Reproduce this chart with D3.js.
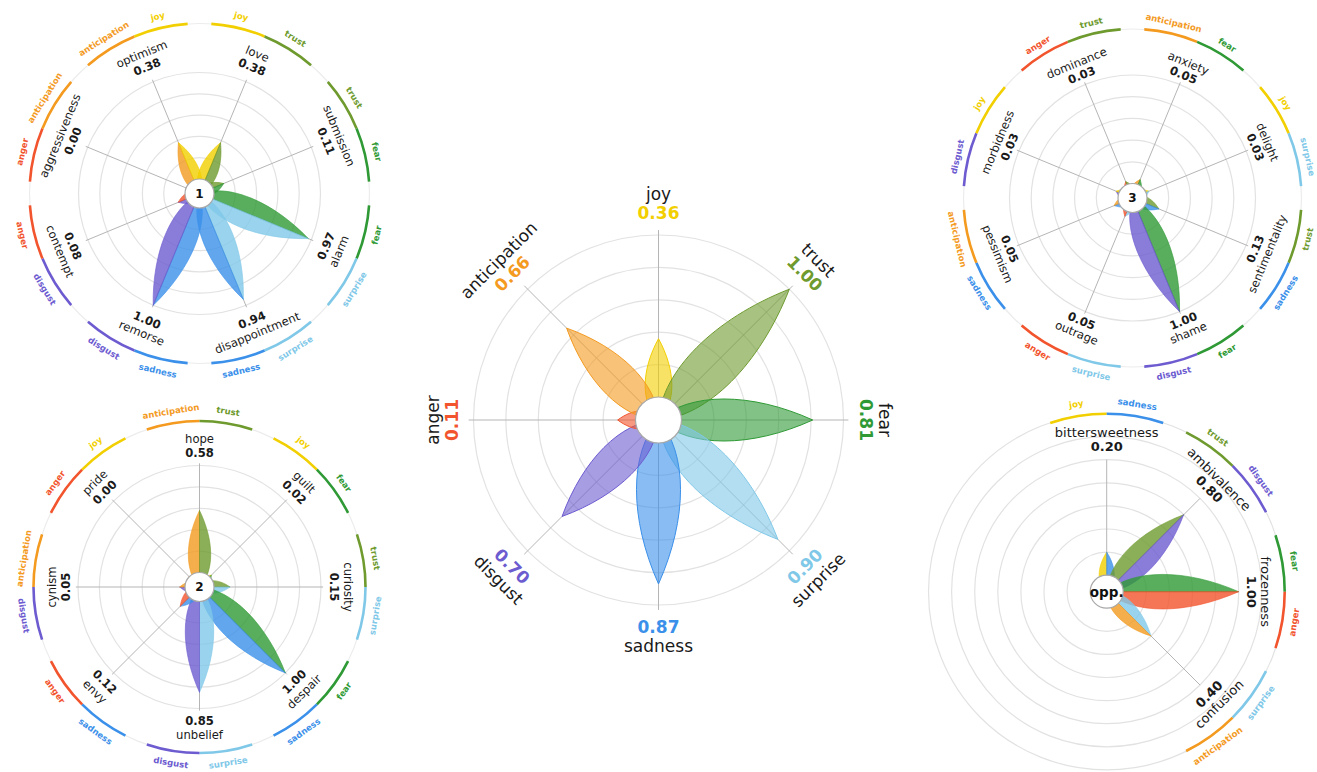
<!DOCTYPE html>
<html>
<head>
<meta charset="utf-8">
<script src="https://cdn.jsdelivr.net/npm/d3@7"></script>
<style>
  html, body { margin: 0; padding: 0; background: #fff; }
  svg { display: block; font-family: "DejaVu Sans", sans-serif; }
</style>
</head>
<body>
<svg id="chart" width="1317" height="772"></svg>
<script>
// Primary emotions, clockwise from the top of the wheel
const emotionNames  = ["joy", "trust", "fear", "surprise", "sadness", "disgust", "anger", "anticipation"];
const emotionColors = ["#f2cf00", "#6e9a2e", "#2f9a35", "#80c8e8", "#3b90ea", "#6d5bd0", "#f2542d", "#f39a1f"];
const emotionScores = [0.36, 1.00, 0.81, 0.90, 0.87, 0.70, 0.11, 0.66];

// Primary dyads
const primaryDyadNames  = ["love", "submission", "alarm", "disappointment", "remorse", "contempt", "aggressiveness", "optimism"];
const primaryDyadScores = [0.38, 0.11, 0.97, 0.94, 1.00, 0.08, 0.00, 0.38];
const primaryDyadPairs  = [["joy","trust"], ["trust","fear"], ["fear","surprise"], ["surprise","sadness"],
                           ["sadness","disgust"], ["disgust","anger"], ["anger","anticipation"], ["anticipation","joy"]];

// Secondary dyads
const secondaryDyadNames  = ["hope", "guilt", "curiosity", "despair", "unbelief", "envy", "cynism", "pride"];
const secondaryDyadScores = [0.58, 0.02, 0.15, 1.00, 0.85, 0.12, 0.05, 0.00];
const secondaryDyadPairs  = [["anticipation","trust"], ["joy","fear"], ["trust","surprise"], ["fear","sadness"],
                             ["surprise","disgust"], ["sadness","anger"], ["disgust","anticipation"], ["anger","joy"]];

// Tertiary dyads
const tertiaryDyadNames  = ["anxiety", "delight", "sentimentality", "shame", "outrage", "pessimism", "morbidness", "dominance"];
const tertiaryDyadScores = [0.05, 0.03, 0.13, 1.00, 0.05, 0.05, 0.03, 0.03];
const tertiaryDyadPairs  = [["anticipation","fear"], ["joy","surprise"], ["trust","sadness"], ["fear","disgust"],
                            ["surprise","anger"], ["sadness","anticipation"], ["disgust","joy"], ["anger","trust"]];

// Opposite dyads
const oppositeDyadNames  = ["bittersweetness", "ambivalence", "frozenness", "confusion"];
const oppositeDyadScores = [0.20, 0.80, 1.00, 0.40];
const oppositeDyadPairs  = [["joy","sadness"], ["trust","disgust"], ["fear","anger"], ["surprise","anticipation"]];

const ringValues = [0.2, 0.4, 0.6, 0.8, 1.0];
const wideRingValues = [0.2, 0.4, 0.6, 0.8, 1.0, 1.2, 1.4];

const colorOf = d3.scaleOrdinal().domain(emotionNames).range(emotionColors);
const svg = d3.select("#chart");
const rad = deg => deg * Math.PI / 180;

// Leaf-shaped petal: cubic curves from the wheel centre to the tip.
// side = -1 counter-clockwise half, +1 clockwise half, 0 whole petal.
function petalPath(cx, cy, angleDeg, tip, halfW, side) {
  const a = rad(angleDeg), s = Math.sin(a), c = Math.cos(a);
  const P = (u, v) => [cx + u * s + v * c, cy - u * c + v * s];
  const k = halfW * 4 / 3;
  const p = d3.path();
  const o = P(0, 0);
  p.moveTo(o[0], o[1]);
  const s0 = side === 0 ? -1 : side;
  let c1 = P(0.2 * tip, s0 * k), c2 = P(0.6 * tip, s0 * k), t = P(tip, 0);
  p.bezierCurveTo(c1[0], c1[1], c2[0], c2[1], t[0], t[1]);
  if (side === 0) {
    c1 = P(0.6 * tip, k); c2 = P(0.2 * tip, k);
    p.bezierCurveTo(c1[0], c1[1], c2[0], c2[1], o[0], o[1]);
  } else {
    p.lineTo(o[0], o[1]);
  }
  p.closePath();
  return p.toString();
}

function textRotation(angleDeg) {
  let r = ((angleDeg % 360) + 360) % 360;
  if (r > 90 && r < 270) r -= 180;
  return r;
}

function radialText(g, cx, cy, angleDeg, r, txt, attrs) {
  const a = rad(angleDeg);
  const x = cx + r * Math.sin(a), y = cy - r * Math.cos(a);
  const t = g.append("text")
    .attr("transform", `translate(${x.toFixed(2)},${y.toFixed(2)}) rotate(${textRotation(angleDeg)})`)
    .attr("text-anchor", "middle")
    .attr("dominant-baseline", "central")
    .text(txt);
  Object.entries(attrs).forEach(([k, v]) => t.attr(k, v));
  return t;
}

function drawGrid(g, cfg, rScale, rings, nAxes, angleOf) {
  if (cfg.outerR) {
    g.append("circle").attr("cx", cfg.cx).attr("cy", cfg.cy).attr("r", cfg.outerR)
      .attr("fill", "none").attr("stroke", "#ececec").attr("stroke-width", 1.2);
  }
  g.selectAll("circle.ring").data(rings).join("circle")
    .attr("class", "ring")
    .attr("cx", cfg.cx).attr("cy", cfg.cy)
    .attr("r", d => rScale(d))
    .attr("fill", "none").attr("stroke", "#e2e2e2").attr("stroke-width", 1.2);
  g.selectAll("line.axis").data(d3.range(nAxes)).join("line")
    .attr("class", "axis")
    .attr("x1", cfg.cx).attr("y1", cfg.cy)
    .attr("x2", i => cfg.cx + rScale(cfg.axisEnd) * Math.sin(rad(angleOf(i))))
    .attr("y2", i => cfg.cy - rScale(cfg.axisEnd) * Math.cos(rad(angleOf(i))))
    .attr("stroke", "#b5b5b5").attr("stroke-width", 1);
}

function drawHub(g, cfg, label, fs) {
  g.append("circle").attr("cx", cfg.cx).attr("cy", cfg.cy).attr("r", cfg.r0)
    .attr("fill", "#fff").attr("stroke", "#a8a8a8").attr("stroke-width", 1.2);
  if (label) {
    g.append("text").attr("x", cfg.cx).attr("y", cfg.cy)
      .attr("text-anchor", "middle").attr("dominant-baseline", "central")
      .attr("font-size", fs).attr("font-weight", "bold").attr("fill", "#111")
      .text(label);
  }
}

// Central wheel of the eight primary emotions
function drawPrimaryWheel(cfg) {
  const g = svg.append("g");
  const rScale = d3.scaleLinear().domain([0, 1]).range([cfg.r0, cfg.R]);
  const angleOf = i => i * 45;
  drawGrid(g, cfg, rScale, ringValues, emotionNames.length, angleOf);
  emotionNames.forEach((name, i) => {
    const tip = rScale(emotionScores[i]);
    const halfW = 0.026 * cfg.R + 0.105 * tip;
    g.append("path")
      .attr("d", petalPath(cfg.cx, cfg.cy, angleOf(i), tip, halfW, 0))
      .attr("fill", colorOf(name)).attr("fill-opacity", 0.6)
      .attr("stroke", colorOf(name)).attr("stroke-width", 1);
  });
  drawHub(g, cfg, null, 0);
  emotionNames.forEach((name, i) => {
    radialText(g, cfg.cx, cfg.cy, angleOf(i), cfg.rValue, d3.format(".2f")(emotionScores[i]),
      { "font-size": cfg.fs, "font-weight": "bold", fill: colorOf(name) });
    radialText(g, cfg.cx, cfg.cy, angleOf(i), cfg.rName, name,
      { "font-size": cfg.fs, fill: "#1a1a1a" });
  });
}

// Wheel of dyads: each petal split between its two component emotions
function drawDyadWheel(cfg, names, scores, pairs) {
  const g = svg.append("g");
  const rScale = d3.scaleLinear().domain([0, 1]).range([cfg.r0, cfg.R]);
  const angleOf = i => cfg.offset + i * 45;
  drawGrid(g, cfg, rScale, cfg.rings, names.length, angleOf);

  names.forEach((name, i) => {
    const tip = rScale(scores[i]);
    const halfW = 0.026 * cfg.R + 0.105 * tip;
    pairs[i].forEach((emo, j) => {
      g.append("path")
        .attr("d", petalPath(cfg.cx, cfg.cy, angleOf(i), tip, halfW, j === 0 ? -1 : 1))
        .attr("fill", colorOf(emo)).attr("fill-opacity", 0.8)
        .attr("stroke", colorOf(emo)).attr("stroke-width", 0.6);
    });
  });
  drawHub(g, cfg, cfg.hubLabel, cfg.hubFs);

  names.forEach((name, i) => {
    radialText(g, cfg.cx, cfg.cy, angleOf(i), cfg.rValue, d3.format(".2f")(scores[i]),
      { "font-size": cfg.fs, "font-weight": "bold", fill: "#1a1a1a" });
    radialText(g, cfg.cx, cfg.cy, angleOf(i), cfg.rName, name,
      { "font-size": cfg.fs, fill: "#1a1a1a" });
  });

  // Outer arcs naming the two components of every dyad
  const arc = d3.arc().innerRadius(cfg.arcR - 1.3).outerRadius(cfg.arcR + 1.3);
  const span = 18.5;
  names.forEach((name, i) => {
    const mid = angleOf(i);
    pairs[i].forEach((emo, j) => {
      const a0 = j === 0 ? mid - span : mid;
      const a1 = j === 0 ? mid : mid + span;
      g.append("path")
        .attr("transform", `translate(${cfg.cx},${cfg.cy})`)
        .attr("d", arc({ startAngle: rad(a0), endAngle: rad(a1) }))
        .attr("fill", colorOf(emo));
      radialText(g, cfg.cx, cfg.cy, (a0 + a1) / 2, cfg.arcR + cfg.arcTextGap, emo,
        { "font-size": cfg.arcFs, "font-weight": "bold", fill: colorOf(emo) });
    });
  });
}

drawPrimaryWheel({ cx: 658.5, cy: 420, r0: 23, R: 185, axisEnd: 1.03, rValue: 207, rName: 226, fs: 17 });

drawDyadWheel({ cx: 199.5, cy: 193.5, r0: 14.5, R: 121, axisEnd: 1.02, rings: ringValues, outerR: 170,
  arcR: 170, arcTextGap: 12, arcFs: 8.5, rValue: 137, rName: 151, fs: 11.6, offset: 22.5,
  hubLabel: "1", hubFs: 12 }, primaryDyadNames, primaryDyadScores, primaryDyadPairs);

drawDyadWheel({ cx: 199.5, cy: 587, r0: 14.5, R: 121.5, axisEnd: 1.02, rings: ringValues, outerR: 166,
  arcR: 166, arcTextGap: 12, arcFs: 8.5, rValue: 134, rName: 148, fs: 11.6, offset: 0,
  hubLabel: "2", hubFs: 12 }, secondaryDyadNames, secondaryDyadScores, secondaryDyadPairs);

drawDyadWheel({ cx: 1132.5, cy: 198, r0: 14.5, R: 123, axisEnd: 1.02, rings: ringValues, outerR: 169,
  arcR: 169, arcTextGap: 11, arcFs: 8.5, rValue: 133, rName: 146, fs: 11.6, offset: 22.5,
  hubLabel: "3", hubFs: 12 }, tertiaryDyadNames, tertiaryDyadScores, tertiaryDyadPairs);

drawDyadWheel({ cx: 1106.7, cy: 591.7, r0: 16.5, R: 132, axisEnd: 1.0, rings: wideRingValues, outerR: null,
  arcR: 178, arcTextGap: 12, arcFs: 8.7, rValue: 145, rName: 159, fs: 13, offset: 0,
  hubLabel: "opp.", hubFs: 13.5 }, oppositeDyadNames, oppositeDyadScores, oppositeDyadPairs);
</script>
</body>
</html>
